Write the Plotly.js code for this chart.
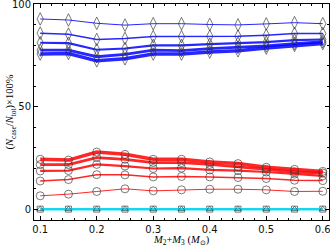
<!DOCTYPE html>
<html>
<head>
<meta charset="utf-8">
<script src="https://cdn.plot.ly/plotly-3.0.1.min.js"></script>
<style>html,body{margin:0;padding:0;background:#fff;}#chart{width:330px;height:246px;}</style>
</head>
<body>
<div id="chart"></div>
<script>
var masses = [0.1, 0.15, 0.2, 0.25, 0.3, 0.35, 0.4, 0.45, 0.5, 0.55, 0.6];

var blue1 = [92.7, 92.2, 90.6, 89.7, 90.4, 90.4, 90.0, 89.8, 90.3, 90.9, 90.4];
var blue2 = [85.8, 85.3, 82.7, 83.2, 84.1, 84.1, 84.3, 84.3, 84.8, 85.6, 85.6];
var blue3 = [81.1, 80.9, 77.7, 78.3, 79.8, 79.8, 80.4, 80.9, 81.4, 82.4, 82.7];
var blue4 = [77.5, 77.5, 74.3, 75.4, 77.5, 77.3, 78.2, 78.8, 79.6, 80.7, 81.6];
var blue5 = [75.6, 75.9, 72.3, 73.3, 75.6, 75.6, 76.6, 77.2, 78.5, 79.8, 80.7];

var red1 = [24.3, 23.9, 27.8, 26.7, 24.3, 24.3, 23.0, 22.2, 20.4, 19.4, 18.4];
var red2 = [21.7, 21.7, 25.1, 24.3, 22.7, 22.7, 21.8, 20.7, 19.4, 18.1, 17.6];
var red3 = [18.6, 18.8, 21.8, 21.0, 19.8, 20.0, 19.1, 18.8, 18.1, 17.1, 16.2];
var red4 = [13.7, 14.4, 16.8, 16.7, 15.7, 15.9, 15.7, 15.4, 14.9, 14.1, 13.9];
var red5 = [6.5, 7.3, 8.6, 9.9, 8.9, 9.4, 9.7, 9.7, 9.4, 8.6, 8.7];

var zeroA = [0, 0, 0, 0, 0, 0, 0, 0, 0, 0, 0];
var zeroB = [0, 0, 0, 0, 0, 0, 0, 0, 0, 0, 0];

var xTickVals = [0.1, 0.2, 0.3, 0.4, 0.5, 0.6];
var xTickText = ["0.1", "0.2", "0.3", "0.4", "0.5", "0.6"];
var yTickVals = [0, 50, 100];
var yTickText = ["0", "50", "100"];
var xTitle = '<i>M</i><sub>2</sub>+<i>M</i><sub>3</sub> (<i>M</i><sub>⊙</sub>)';
var yTitle = '(<i>N</i><sub>case</sub>/<i>N</i><sub>tot</sub>)×100%';

var mk = 'rgba(60,60,60,0.85)';
function tr(y, color, width, symbol, msize) {
  return {
    x: masses, y: y, type: 'scatter', mode: 'lines+markers',
    line: {color: color, width: width},
    marker: {symbol: symbol, size: msize, color: mk, line: {color: mk, width: 0.8}},
    hoverinfo: 'skip', showlegend: false, cliponaxis: false
  };
}
var bc = 'rgba(0,0,255,0.85)';
var rc = 'rgba(255,0,0,0.85)';
var data = [
  tr(zeroA, 'rgba(160,80,230,0.8)', 1.2, 'square-open', 6),
  tr(zeroB, 'rgba(0,220,240,0.9)', 2.5, 'triangle-up-open', 6),
  tr(red5, rc, 1, 'circle-open', 8),
  tr(red4, rc, 1.5, 'circle-open', 8),
  tr(red3, rc, 2.2, 'circle-open', 8),
  tr(red2, rc, 2.8, 'circle-open', 8),
  tr(red1, rc, 3.5, 'circle-open', 8),
  tr(blue1, bc, 1, 'diamond-tall-open', 9),
  tr(blue2, bc, 1.5, 'diamond-tall-open', 9),
  tr(blue3, bc, 2.2, 'diamond-tall-open', 9),
  tr(blue4, bc, 2.8, 'diamond-tall-open', 9),
  tr(blue5, bc, 3.5, 'diamond-tall-open', 9)
];

var tickFont = {family: 'DejaVu Sans, Liberation Sans, sans-serif', size: 10, color: '#111'};
var titleFont = {family: 'Liberation Serif, Times New Roman, serif', size: 10.5, color: '#000'};

var layout = {
  width: 330, height: 246,
  margin: {l: 34, r: 1, t: 4, b: 26},
  paper_bgcolor: '#fff', plot_bgcolor: '#fff',
  font: {family: 'DejaVu Sans, sans-serif', size: 10, color: '#000'},
  xaxis: {
    range: [0.089, 0.611], showgrid: false, zeroline: false,
    showline: true, linecolor: '#000', linewidth: 1, mirror: 'ticks',
    ticks: 'inside', ticklen: 4, tickcolor: '#000',
    tickvals: xTickVals, ticktext: xTickText, ticklabeloverflow: 'allow',
    ticklabelstandoff: 0,
    minor: {dtick: 0.02, tick0: 0.1, ticks: 'inside', ticklen: 2, tickcolor: '#000'},
    tickfont: tickFont, automargin: false
  },
  yaxis: {
    range: [-5.3, 100], showgrid: false, zeroline: false,
    showline: true, linecolor: '#000', linewidth: 1, mirror: 'ticks',
    ticks: 'inside', ticklen: 4, tickcolor: '#000',
    tickvals: yTickVals, ticktext: yTickText, ticklabeloverflow: 'allow',
    minor: {dtick: 10, tick0: 0, ticks: 'inside', ticklen: 2, tickcolor: '#000'},
    tickfont: tickFont, automargin: false
  },
  annotations: [
    {text: xTitle, xref: 'paper', yref: 'paper', x: 0.5, y: -0.128, yanchor: 'bottom',
     xanchor: 'center', showarrow: false, font: titleFont, borderpad: 0},
    {text: yTitle, xref: 'paper', yref: 'paper', x: -0.08, y: 0.5, xanchor: 'center',
     yanchor: 'middle', textangle: -90, showarrow: false, font: titleFont, borderpad: 0}
  ]
};
Plotly.newPlot('chart', data, layout, {displayModeBar: false, staticPlot: true});
</script>
</body>
</html>
